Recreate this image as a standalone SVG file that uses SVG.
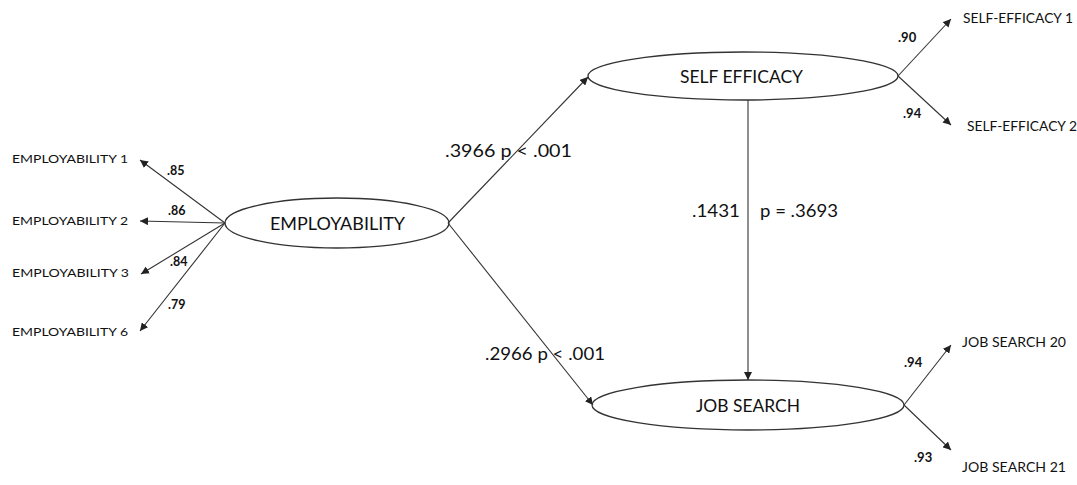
<svg xmlns="http://www.w3.org/2000/svg" width="1077" height="485" viewBox="0 0 1077 485">
<defs>
<style>
.lat{fill:none;stroke:#333;stroke-width:1.3}
.con{stroke:#333;stroke-width:1.1;fill:none;marker-end:url(#ah)}
.t{font-family:Lato,"Liberation Sans",sans-serif;fill:#111}
.big{font-size:18px}
.obs{font-size:12px}
.obsr{font-size:13.5px}
.w{font-size:12.5px;font-weight:bold}
.wr{font-size:13px;font-weight:bold}
</style>
<marker id="ah" viewBox="0 0 10 10" refX="10" refY="5" markerWidth="8" markerHeight="8" markerUnits="userSpaceOnUse" orient="auto">
<path d="M0,0 L10,5 L0,10 z" fill="#222"/>
</marker>
</defs>
<rect width="1077" height="485" fill="#fff"/>
<g id="connectors">
<line class="con" x1="225" y1="223" x2="140" y2="160"/>
<line class="con" x1="225" y1="223" x2="140" y2="221"/>
<line class="con" x1="225" y1="223" x2="141" y2="274"/>
<line class="con" x1="225" y1="223" x2="140" y2="331"/>
<line class="con" x1="448" y1="223" x2="588" y2="77"/>
<line class="con" x1="448" y1="223" x2="593" y2="405"/>
<line class="con" x1="748" y1="100" x2="748" y2="380"/>
<line class="con" x1="898" y1="76" x2="951" y2="19"/>
<line class="con" x1="898" y1="76" x2="951" y2="125"/>
<line class="con" x1="904" y1="405" x2="951" y2="345"/>
<line class="con" x1="904" y1="405" x2="951" y2="450"/>
</g>
<g id="labels">
<text class="t w" x="167" y="175">.85</text>
<text class="t w" x="168" y="215">.86</text>
<text class="t w" x="170" y="266">.84</text>
<text class="t w" x="168" y="309">.79</text>
<text class="t wr" x="898" y="42">.90</text>
<text class="t wr" x="903" y="118">.94</text>
<text class="t wr" x="904" y="367">.94</text>
<text class="t wr" x="914" y="462">.93</text>
<text class="t big" x="445" y="157" textLength="127" lengthAdjust="spacingAndGlyphs">.3966  p &lt; .001</text>
<text class="t big" x="485" y="360" textLength="120" lengthAdjust="spacingAndGlyphs">.2966 p &lt; .001</text>
<text class="t big" x="692" y="217" textLength="48" lengthAdjust="spacingAndGlyphs">.1431</text>
<text class="t big" x="760" y="217" textLength="78" lengthAdjust="spacingAndGlyphs">p = .3693</text>
</g>
<g id="employability">
<ellipse class="lat" cx="337" cy="223" rx="112" ry="25"/>
<text class="t big" x="270" y="229.5" textLength="135" lengthAdjust="spacingAndGlyphs">EMPLOYABILITY</text>
</g>
<g id="self-efficacy">
<ellipse class="lat" cx="743" cy="76" rx="155" ry="24"/>
<text class="t big" x="680" y="83" textLength="123" lengthAdjust="spacingAndGlyphs">SELF EFFICACY</text>
</g>
<g id="job-search">
<ellipse class="lat" cx="748" cy="405" rx="156" ry="25"/>
<text class="t big" x="696" y="411.5" textLength="104" lengthAdjust="spacingAndGlyphs">JOB SEARCH</text>
</g>
<g id="employability-1"><text class="t obs" x="12" y="163" textLength="116" lengthAdjust="spacingAndGlyphs">EMPLOYABILITY 1</text></g>
<g id="employability-2"><text class="t obs" x="12" y="225" textLength="116" lengthAdjust="spacingAndGlyphs">EMPLOYABILITY 2</text></g>
<g id="employability-3"><text class="t obs" x="12" y="277" textLength="117" lengthAdjust="spacingAndGlyphs">EMPLOYABILITY 3</text></g>
<g id="employability-6"><text class="t obs" x="12" y="336" textLength="116" lengthAdjust="spacingAndGlyphs">EMPLOYABILITY 6</text></g>
<g id="self-efficacy-1"><text class="t obsr" x="963" y="23" textLength="110" lengthAdjust="spacingAndGlyphs">SELF-EFFICACY 1</text></g>
<g id="self-efficacy-2"><text class="t obsr" x="967" y="131" textLength="110" lengthAdjust="spacingAndGlyphs">SELF-EFFICACY 2</text></g>
<g id="job-search-20"><text class="t obsr" x="962" y="347" textLength="104" lengthAdjust="spacingAndGlyphs">JOB SEARCH 20</text></g>
<g id="job-search-21"><text class="t obsr" x="962" y="472" textLength="104" lengthAdjust="spacingAndGlyphs">JOB SEARCH 21</text></g>
</svg>
